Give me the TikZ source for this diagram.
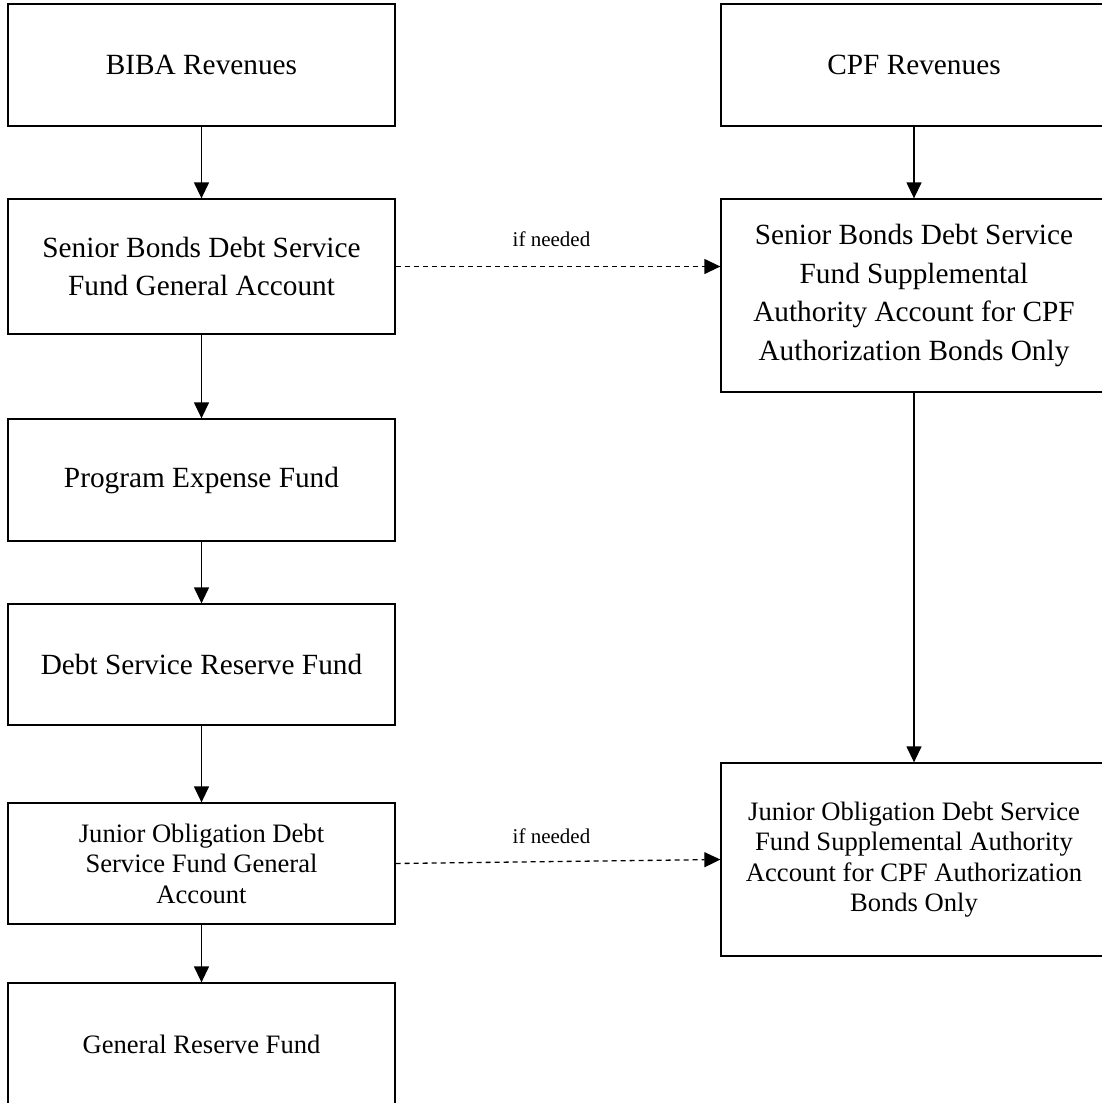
\documentclass[tikz,border=0pt]{standalone}
\usepackage{fontspec}
\setmainfont{Liberation Serif}
\usetikzlibrary{arrows.meta}
\begin{document}
\begin{tikzpicture}[x=1pt,y=-1pt,
  box/.style={draw, line width=1.3pt, rectangle, inner sep=0pt, align=center},
  lbox/.style={box, minimum width=387pt},
  rbox/.style={box, minimum width=386pt},
  big/.style={font=\fontsize{29.3}{38.8}\selectfont},
  small/.style={font=\fontsize{26.6}{30.4}\selectfont},
  flow/.style={line width=1.3pt, -{Triangle[length=16pt,width=15pt]}},
  opt/.style={flow, dash pattern=on 5pt off 4pt},
  lbl/.style={font=\fontsize{21}{25}\selectfont, inner sep=0pt}]
\useasboundingbox (0,0) rectangle (1101,1103);
% left column
\node[lbox, big, minimum height=122pt] (biba) at (201.5,65) {BIBA Revenues};
\node[lbox, big, minimum height=135pt] (sb) at (201.5,266.5) {Senior Bonds Debt Service\\Fund General Account};
\node[lbox, big, minimum height=122pt] (pe) at (201.5,480) {Program Expense Fund};
\node[lbox, big, minimum height=121pt] (dsr) at (201.5,664.5) {Debt Service Reserve Fund};
\node[lbox, small, minimum height=121pt] (jo) at (201.5,863.5) {Junior Obligation Debt\\Service Fund General\\Account};
\node[lbox, small, minimum height=123pt] (grf) at (201.5,1044.5) {General Reserve Fund};
% right column
\node[rbox, big, minimum height=122pt] (cpf) at (914,65) {CPF Revenues};
\node[rbox, big, minimum height=193pt] (sbs) at (914,295.5) {Senior Bonds Debt Service\\Fund Supplemental\\Authority Account for CPF\\Authorization Bonds Only};
\node[rbox, small, minimum height=193pt] (jos) at (914,859.5) {Junior Obligation Debt Service\\Fund Supplemental Authority\\Account for CPF Authorization\\Bonds Only};
% connectors
\draw[flow] (biba) -- (sb);
\draw[flow] (sb) -- (pe);
\draw[flow] (pe) -- (dsr);
\draw[flow] (dsr) -- (jo);
\draw[flow] (jo) -- (grf);
\draw[flow] (cpf) -- (sbs);
\draw[flow] (sbs) -- (jos);
\draw[opt] (sb.east) -- node[lbl, above=19pt, pos=0.48] {if needed} (sb.east -| sbs.west);
\draw[opt] (jo.east) -- node[lbl, above=17pt, pos=0.48] {if needed} (jos.west);
\end{tikzpicture}
\end{document}
